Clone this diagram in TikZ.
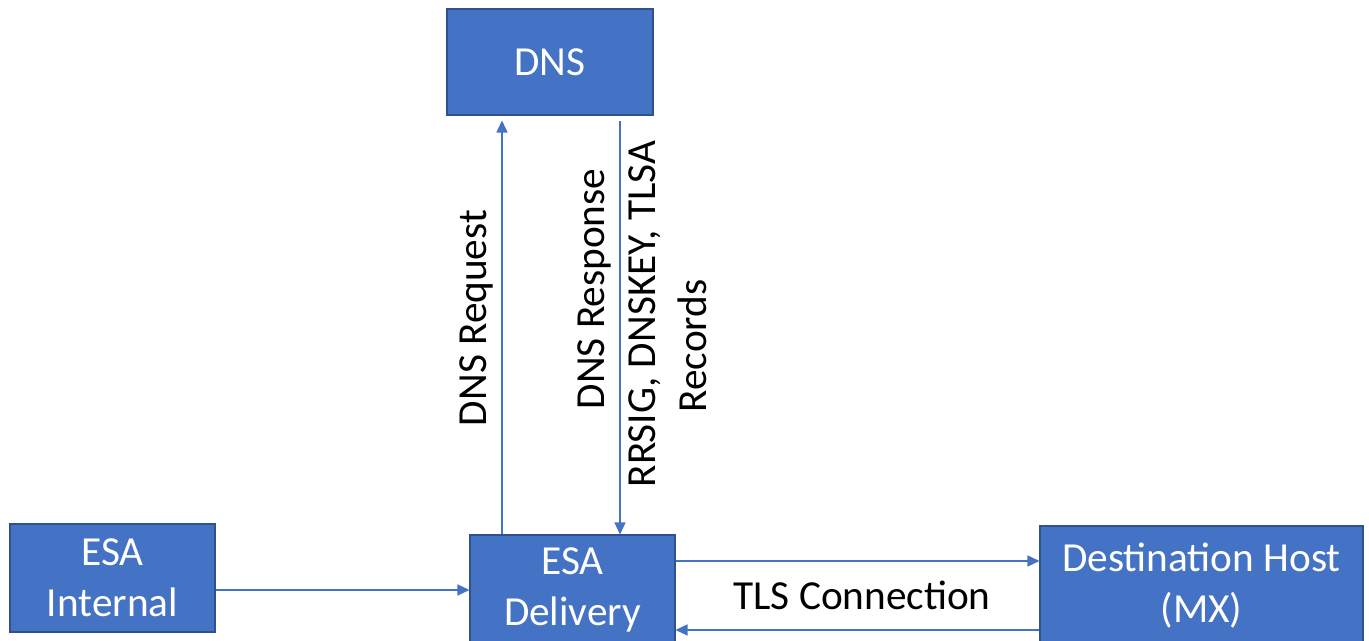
\documentclass[tikz,border=0pt]{standalone}
\usepackage{fontspec}
\setmainfont{Carlito}
\usetikzlibrary{arrows.meta}
\definecolor{boxblue}{HTML}{4472C4}
\definecolor{boxedge}{HTML}{2F528F}
\tikzset{
  box/.style={draw=boxedge,fill=boxblue,text=white,line width=0.6pt,align=center,inner sep=0pt,font=\fontsize{23.5}{29}\selectfont},
  link/.style={draw=boxblue,line width=0.9pt,-{Triangle[length=2.4mm,width=2.2mm]}},
  lbl/.style={align=center,font=\fontsize{23.5}{29}\selectfont}
}
\begin{document}
\begin{tikzpicture}
                \clip (0,0) rectangle (27.38,12.82);
                \node[box,minimum width=4.12cm,minimum height=2.12cm] (dns) at (11.0,11.58) {DNS};
                \node[box,minimum width=4.1cm,minimum height=2.16cm] (int) at (2.25,1.26) {ESA\\Internal};
                \node[box,minimum width=4.1cm,minimum height=2.2cm] (del) at (11.45,1.02) {ESA\\Delivery};
                \node[box,minimum width=6.46cm,minimum height=2.4cm] (dest) at (24.03,1.1) {Destination Host\\(MX)};
                \draw[link] (int.east |- del.west) -- (del.west);
                \draw[link,shorten >=0.1cm] ([xshift=-1.41cm]del.north) -- ([xshift=-1.41cm]del.north |- dns.south);
                \draw[link,shorten <=0.1cm] ([xshift=1.4cm]dns.south) -- ([xshift=1.4cm]dns.south |- del.north);
                \draw[link] ([yshift=0.58cm]del.east) -- ([yshift=0.58cm]del.east -| dest.west);
                \draw[link] ([yshift=-0.8cm]del.east -| dest.west) -- ([yshift=-0.8cm]del.east);
                \node[lbl,rotate=90] (req) at (9.52,6.46) {DNS Request};
                \node[lbl,rotate=90] (resp) at (12.84,6.54) {\hspace*{1cm}DNS Response\\RRSIG, DNSKEY, TLSA\\Records\hspace*{1.28cm}};
                \node[lbl] (tls) at (17.24,0.92) {TLS Connection};
            \end{tikzpicture}
\end{document}
